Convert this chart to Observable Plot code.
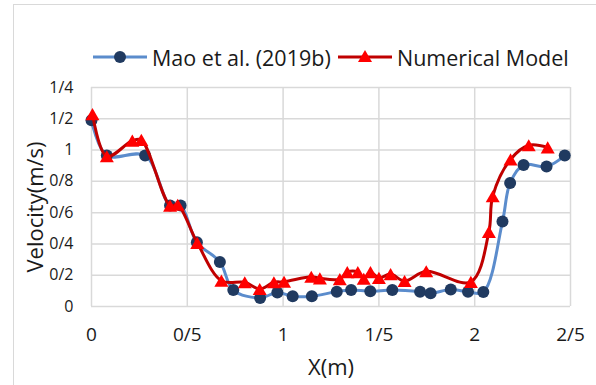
<!DOCTYPE html>
<html>
<head>
<meta charset="utf-8">
<script src="https://cdn.jsdelivr.net/npm/d3@7"></script>
<script src="https://cdn.jsdelivr.net/npm/@observablehq/plot@0.6"></script>
<style>
  html, body { margin: 0; padding: 0; background: #fff; overflow: hidden; }
  body { width: 596px; height: 385px; position: relative; font-family: "Open Sans", Lato, sans-serif; color: #1a1a1a; }
  #frame { position: absolute; left: 13px; top: 4px; width: 640px; height: 420px; border: 1.5px solid #d9d9d9; box-sizing: border-box; }
  #legend { position: relative; height: 70px; }
  .item { position: absolute; top: 45px; height: 24px; display: flex; align-items: center; font-size: 21.5px; white-space: nowrap; }
  .item svg { display: block; margin-right: 5px; }
  #chart { position: relative; }
  #chart svg text { fill: #1a1a1a; }
  #chart g[aria-label="y-axis label"] text, #chart g[aria-label="x-axis label"] text { font-size: 22px; }
</style>
</head>
<body>
<div id="frame"></div>
<div id="legend"></div>
<div id="chart"></div>
<script>
// ---- Data ----
const maoX = [0.00, 0.08, 0.28, 0.41, 0.465, 0.55, 0.67, 0.74, 0.88, 0.97, 1.05, 1.15, 1.28, 1.355, 1.455, 1.57, 1.715, 1.77, 1.875, 1.965, 2.045, 2.145, 2.185, 2.255, 2.375, 2.47];
const maoV = [1.19, 0.965, 0.965, 0.645, 0.645, 0.41, 0.285, 0.105, 0.055, 0.09, 0.065, 0.065, 0.095, 0.105, 0.098, 0.105, 0.094, 0.084, 0.108, 0.094, 0.092, 0.543, 0.79, 0.905, 0.895, 0.965];
const numX = [0.005, 0.08, 0.213, 0.26, 0.41, 0.45, 0.552, 0.678, 0.80, 0.878, 0.952, 1.005, 1.147, 1.192, 1.296, 1.335, 1.39, 1.421, 1.456, 1.50, 1.561, 1.634, 1.747, 1.98, 2.074, 2.094, 2.187, 2.282, 2.381];
const numV = [1.23, 0.96, 1.06, 1.065, 0.645, 0.65, 0.407, 0.165, 0.155, 0.112, 0.155, 0.158, 0.19, 0.18, 0.175, 0.22, 0.22, 0.177, 0.22, 0.183, 0.207, 0.163, 0.225, 0.157, 0.477, 0.705, 0.94, 1.031, 1.017];
const xTicks = [0, 0.5, 1, 1.5, 2, 2.5];
const xTickLabels = ["0", "0/5", "1", "1/5", "2", "2/5"];
const yTicks = [0, 0.2, 0.4, 0.6, 0.8, 1, 1.2, 1.4];
const yTickLabels = ["0", "0/2", "0/4", "0/6", "0/8", "1", "1/2", "1/4"];
const seriesNames = ["Mao et al. (2019b)", "Numerical Model"];

const mao = maoX.map((x, i) => ({x, v: maoV[i]}));
const num = numX.map((x, i) => ({x, v: numV[i]}));

const blueLine = "#5b8ccc", blueDot = "#203a60", redLine = "#c00000", redDot = "#ff0000";

// ---- Legend ----
const legend = document.getElementById("legend");
function addItem(left, name, kind) {
  const d = document.createElement("div");
  d.className = "item";
  d.style.left = left + "px";
  const marker = kind === "circle"
    ? `<circle cx="27" cy="12" r="6" fill="${blueDot}"/>`
    : `<path transform="translate(27,13)" d="${d3.symbol(d3.symbolTriangle, 85)()}" fill="${redDot}"/>`;
  const col = kind === "circle" ? blueLine : redLine;
  d.innerHTML = `<svg width="54" height="24"><line x1="0" x2="54" y1="12" y2="12" stroke="${col}" stroke-width="3"/>${marker}</svg><span>${name}</span>`;
  legend.appendChild(d);
}
addItem(93, seriesNames[0], "circle");
addItem(338, seriesNames[1], "triangle");

// ---- Chart ----
const chart = Plot.plot({
  width: 596,
  height: 315,
  marginLeft: 91,
  marginRight: 26,
  marginTop: 17,
  marginBottom: 79,
  style: {fontFamily: "'Open Sans', Lato, sans-serif", background: "transparent", overflow: "visible"},
  x: {domain: [0, 2.5]},
  y: {domain: [0, 1.4]},
  marks: [
    Plot.gridY(yTicks, {stroke: "#d9d9d9", strokeOpacity: 1, strokeWidth: 1.5}),
    Plot.gridX(xTicks, {stroke: "#d9d9d9", strokeOpacity: 1, strokeWidth: 1.5}),
    Plot.axisX(xTicks, {tickSize: 0, tickPadding: 21, fontSize: 19,
      tickFormat: (d) => xTickLabels[xTicks.indexOf(d)],
      label: "X(m)", labelAnchor: "center", labelArrow: "none", labelOffset: 68}),
    Plot.axisY(yTicks, {tickSize: 0, tickPadding: 18, fontSize: 16,
      tickFormat: (d) => yTickLabels[yTicks.indexOf(d)],
      label: "Velocity(m/s)", labelAnchor: "center", labelArrow: "none", labelOffset: 64}),
    Plot.line(mao, {x: "x", y: "v", stroke: blueLine, strokeWidth: 3, curve: "catmull-rom"}),
    Plot.dot(mao, {x: "x", y: "v", r: 6, fill: blueDot, stroke: "none"}),
    Plot.line(num, {x: "x", y: "v", stroke: redLine, strokeWidth: 3, curve: "catmull-rom"}),
    Plot.dot(num, {x: "x", y: "v", symbol: "triangle", r: 5.2, fill: redDot, stroke: "none", dy: 2})
  ]
});
// nudge the y-axis title down, as in the reference
const yl = chart.querySelector('g[aria-label="y-axis label"]');
if (yl) yl.setAttribute("transform", (yl.getAttribute("transform") || "") + " translate(0,10)");
document.getElementById("chart").appendChild(chart);
</script>
</body>
</html>
